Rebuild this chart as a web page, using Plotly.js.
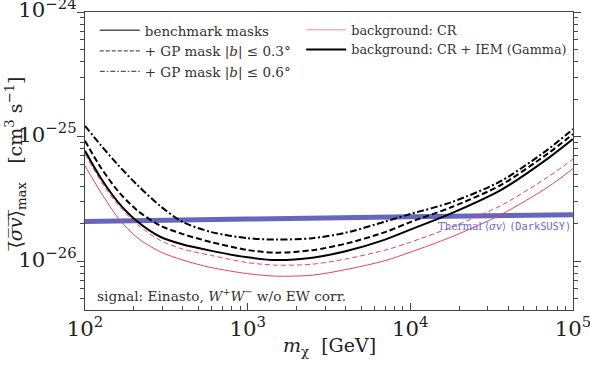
<!DOCTYPE html>
<html>
<head>
<meta charset="utf-8">
<script src="https://cdn.plot.ly/plotly-3.0.1.min.js"></script>
<style>
  html, body { margin: 0; padding: 0; background: #fff; }
  #chart { width: 590px; height: 365px; }
</style>
</head>
<body>
<div id="chart"></div>
<script>
// DM mass grid [GeV]
const massGeV = [100, 125, 160, 210, 290, 400, 600, 1000, 1500, 2500, 4000, 7000, 10000, 18000, 36000, 70000, 100000];

// background: CR + IEM (Gamma), <sigma v>_max [cm^3 s^-1]
const iemBenchmark = [7.69e-26, 4.65e-26, 2.97e-26, 2.08e-26, 1.57e-26, 1.36e-26, 1.21e-26, 1.073e-26, 1.02e-26, 1.067e-26, 1.20e-26, 1.49e-26, 1.79e-26, 2.43e-26, 3.72e-26, 6.66e-26, 9.55e-26];
const iemGp03 = [9.25e-26, 5.65e-26, 3.64e-26, 2.55e-26, 1.93e-26, 1.65e-26, 1.42e-26, 1.23e-26, 1.17e-26, 1.226e-26, 1.38e-26, 1.71e-26, 2.06e-26, 2.72e-26, 4.08e-26, 7.30e-26, 1.047e-25];
const iemGp06 = [1.221e-25, 8.55e-26, 5.90e-26, 4.08e-26, 2.77e-26, 2.06e-26, 1.71e-26, 1.53e-26, 1.49e-26, 1.53e-26, 1.69e-26, 2.08e-26, 2.39e-26, 2.98e-26, 4.39e-26, 7.87e-26, 1.149e-25];

// background: CR only
const crBenchmark = [5.83e-26, 3.58e-26, 2.22e-26, 1.54e-26, 1.19e-26, 1.02e-26, 8.87e-27, 7.94e-27, 7.58e-27, 7.72e-27, 8.55e-27, 1.01e-26, 1.18e-26, 1.57e-26, 2.36e-26, 3.93e-26, 5.53e-26];
const crGp03 = [7.24e-26, 4.39e-26, 2.82e-26, 1.97e-26, 1.47e-26, 1.25e-26, 1.11e-26, 9.73e-27, 9.29e-27, 9.46e-27, 1.04e-26, 1.226e-26, 1.42e-26, 1.88e-26, 2.79e-26, 4.73e-26, 6.60e-26];

// thermal relic cross section (DarkSUSY)
const thermalMass = [100, 1000, 10000, 100000];
const thermalSv = [2.08e-26, 2.18e-26, 2.27e-26, 2.36e-26];

const SERIF = "'DejaVu Serif', 'Liberation Serif', serif";
const MONO = "'DejaVu Sans Mono', 'Liberation Mono', monospace";
const PINK = "#e8406a";
const THERMAL = "#4b4bb0";

function curve(y, color, width, dash) {
  return {
    type: "scatter",
    mode: "lines",
    x: massGeV,
    y,
    line: { color, width, dash, shape: "spline", smoothing: 0.8 },
    showlegend: false,
    hoverinfo: "skip",
  };
}

function legendEntry(name, color, width, dash, legend) {
  return {
    type: "scatter",
    mode: "lines",
    x: [null],
    y: [null],
    name,
    legend,
    line: { color, width, dash },
  };
}

const traces = [
  {
    type: "scatter",
    mode: "lines",
    x: thermalMass,
    y: thermalSv,
    line: { color: THERMAL, width: 5, shape: "spline" },
    opacity: 0.85,
    showlegend: false,
    hoverinfo: "skip",
  },
  curve(crBenchmark, PINK, 1, "solid"),
  curve(crGp03, PINK, 1, "5px,3px"),
  curve(iemBenchmark, "#000", 2, "solid"),
  curve(iemGp03, "#000", 2, "6px,3px"),
  curve(iemGp06, "#000", 2, "7px,2.5px,2px,2.5px"),
  legendEntry("benchmark masks", "#555", 1.3, "solid", "legend"),
  legendEntry("+ GP mask |<i>b</i>| ≤ 0.3°", "#555", 1.3, "4px,2px", "legend"),
  legendEntry("+ GP mask |<i>b</i>| ≤ 0.6°", "#555", 1.3, "5px,2px,1.5px,2px", "legend"),
  legendEntry("background: CR", "#f08aa0", 1, "solid", "legend2"),
  legendEntry("background: CR + IEM (Gamma)", "#000", 2, "solid", "legend2"),
];

const legendStyle = {
  bgcolor: "rgba(0,0,0,0)",
  borderwidth: 0,
  itemwidth: 40,
  tracegroupgap: 0,
  xanchor: "left",
  yanchor: "top",
};

const axisFont = { family: SERIF, size: 17, color: "#222" };

const layout = {
  width: 590,
  height: 365,
  margin: { l: 85, r: 17, t: 12, b: 55 },
  paper_bgcolor: "#fff",
  plot_bgcolor: "#fff",
  font: { family: SERIF, color: "#222" },
  xaxis: {
    type: "log",
    range: [2, 5.0005],
    dtick: 1,
    exponentformat: "power",
    showgrid: false,
    zeroline: false,
    showline: true,
    linecolor: "#444",
    linewidth: 1,
    mirror: true,
    ticks: "inside",
    ticklen: 7,
    tickcolor: "#444",
    tickfont: axisFont,
    ticklabeloverflow: "allow",
    minor: { dtick: "D1", ticks: "inside", ticklen: 4, tickcolor: "#444", showgrid: false },
  },
  yaxis: {
    type: "log",
    range: [-26.392, -23.9995],
    dtick: 1,
    exponentformat: "power",
    showgrid: false,
    zeroline: false,
    showline: true,
    linecolor: "#444",
    linewidth: 1,
    mirror: "ticks",
    ticks: "outside",
    ticklen: 7,
    tickcolor: "#444",
    tickfont: axisFont,
    ticklabeloverflow: "allow",
    ticklabelstandoff: -3,
    ticklabelshift: -2,
    minor: { dtick: "D1", ticks: "outside", ticklen: 4, tickcolor: "#444", showgrid: false },
  },
  legend: { ...legendStyle, font: { family: SERIF, size: 13.5, color: "#333" }, x: 0.02, y: 0.99 },
  legend2: { ...legendStyle, font: { family: SERIF, size: 12.8, color: "#333" }, x: 0.443, y: 0.99 },
  annotations: [
    // axis titles
    {
      xref: "paper",
      yref: "paper",
      x: 0.5,
      y: -0.124,
      xanchor: "center",
      yanchor: "middle",
      showarrow: false,
      text: "<i>m</i><sub>χ</sub>  [GeV]",
      font: { family: SERIF, size: 19, color: "#222" },
    },
    {
      xref: "paper",
      yref: "paper",
      x: -0.141,
      y: 0.49,
      xanchor: "center",
      yanchor: "middle",
      textangle: -90,
      showarrow: false,
      text: "⟨̅<i>σ̅v̅</i>⟩̅<sub>max</sub>   [cm<sup>3</sup> s<sup>−1</sup>]",
      font: { family: SERIF, size: 19, color: "#222" },
    },
    {
      xref: "paper",
      yref: "paper",
      x: 0.02,
      y: 0.012,
      xanchor: "left",
      yanchor: "bottom",
      showarrow: false,
      text: "signal: Einasto, <i>W</i><sup>+</sup><i>W</i><sup>−</sup> w/o EW corr.",
      font: { family: SERIF, size: 13.7, color: "#333" },
    },
    {
      xref: "x",
      yref: "y",
      x: Math.log10(thermalMass[thermalMass.length - 1]),
      y: Math.log10(thermalSv[thermalSv.length - 1]),
      xanchor: "right",
      yanchor: "top",
      yshift: -3,
      showarrow: false,
      text: `Thermal ⟨<i>σv</i>⟩ <span style="font-family:${MONO}">(DarkSUSY)</span>`,
      font: { family: SERIF, size: 10.3, color: "#6a6ad0" },
    },
  ],
};

Plotly.newPlot("chart", traces, layout, { displayModeBar: false, staticPlot: true });
</script>
</body>
</html>
